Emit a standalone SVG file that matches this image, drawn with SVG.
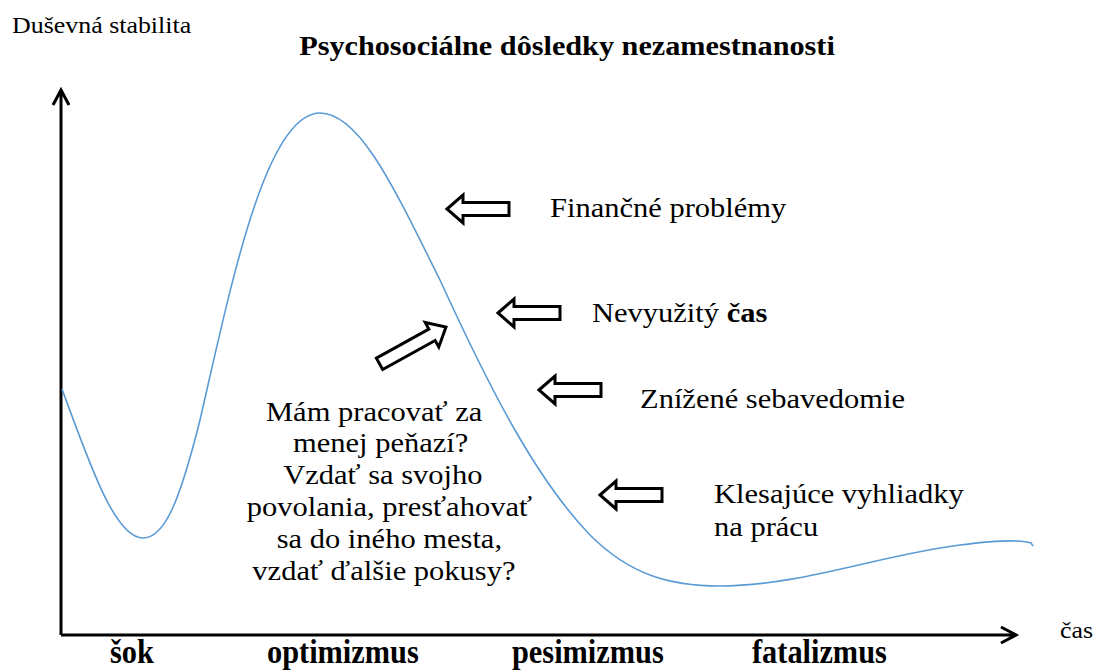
<svg xmlns="http://www.w3.org/2000/svg" width="1102" height="671" viewBox="0 0 1102 671">
<style>
.lbl{font-family:"Liberation Serif","DejaVu Serif",serif;font-size:28px;font-weight:300;fill:#000}
.axl{font-family:"Liberation Serif","DejaVu Serif",serif;font-size:24px;font-weight:300;fill:#000}
.ttl{font-family:"Liberation Serif","Times New Roman",serif;font-size:28px;font-weight:bold;fill:#000}
.ph{font-family:"Liberation Serif","Times New Roman",serif;font-size:33px;font-weight:bold;fill:#000}
.ax{fill:none;stroke:#000;stroke-width:3}
.blk{fill:#fff;stroke:#000;stroke-width:3;stroke-linejoin:miter}
.curve{fill:none;stroke:#5B9BD5;stroke-width:1.6}
</style>
<defs>
<path id="la" d="M0,0 L16,-14 L16,-6.5 L62,-6.5 L62,6.5 L16,6.5 L16,14 Z"/>
</defs>
<rect width="1102" height="671" fill="#fff"/>

<g id="axes">
<path class="ax" d="M61,635 L61,91 M53,105 L61,90 L69,105"/>
<path class="ax" d="M61,635 L1016,635 M1001,627 L1016,635 L1001,643"/>
<text class="axl" transform="translate(12 33) scale(1.08 1)">Duševná stabilita</text>
<text class="axl" transform="translate(1060 638) scale(1.08 1)">čas</text>
</g>

<g id="title">
<text class="ttl" text-anchor="middle" transform="translate(567 55) scale(1.08 1)">Psychosociálne dôsledky nezamestnanosti</text>
</g>

<g id="curve">
<path class="curve" d="M62,389 C90,465 115,538 143,538 C165,538 180,500 200,420 C230,290 265,113 320,113 C360,113 395,190 440,280 C488,385 535,478 590,535 C630,575 670,586 720,586 C800,586 880,555 960,545 C1000,540 1022,540 1031,543 L1033,546"/>
</g>

<g id="connectors">
<use href="#la" class="blk" transform="translate(447 209)"/>
<use href="#la" class="blk" transform="translate(498 313)"/>
<use href="#la" class="blk" transform="translate(539 390)"/>
<use href="#la" class="blk" transform="translate(600 495)"/>
<path class="blk" d="M0,0 L16,-14 L16,-6.5 L76,-6.5 L76,6.5 L16,6.5 L16,14 Z" transform="translate(446 327) rotate(151)"/>
</g>

<g id="label-financne">
<text class="lbl" transform="translate(550 217) scale(1.09 1)">Finančné problémy</text>
</g>
<g id="label-nevyuzity">
<text class="lbl" transform="translate(592 322) scale(1.09 1)">Nevyužitý <tspan font-weight="bold">čas</tspan></text>
</g>
<g id="label-znizene">
<text class="lbl" transform="translate(640 408) scale(1.09 1)">Znížené sebavedomie</text>
</g>
<g id="label-klesajuce">
<text class="lbl" transform="translate(714 503) scale(1.09 1)">Klesajúce vyhliadky</text>
<text class="lbl" transform="translate(714 536) scale(1.09 1)">na prácu</text>
</g>

<g id="label-otazky" transform="translate(385 0) scale(1.09 1)">
<text class="lbl" text-anchor="middle" x="-10" y="421">Mám pracovať za</text>
<text class="lbl" text-anchor="middle" x="-4" y="452">menej peňazí?</text>
<text class="lbl" text-anchor="middle" x="-2" y="484">Vzdať sa svojho</text>
<text class="lbl" text-anchor="middle" x="4" y="516">povolania, presťahovať</text>
<text class="lbl" text-anchor="middle" x="4" y="548">sa do iného mesta,</text>
<text class="lbl" text-anchor="middle" x="-1" y="580">vzdať ďalšie pokusy?</text>
</g>

<g id="phases">
<text class="ph" transform="translate(110 663) scale(0.92 1)">šok</text>
<text class="ph" transform="translate(267 663) scale(0.92 1)">optimizmus</text>
<text class="ph" transform="translate(512 663) scale(0.92 1)">pesimizmus</text>
<text class="ph" transform="translate(752 663) scale(0.92 1)">fatalizmus</text>
</g>
</svg>
